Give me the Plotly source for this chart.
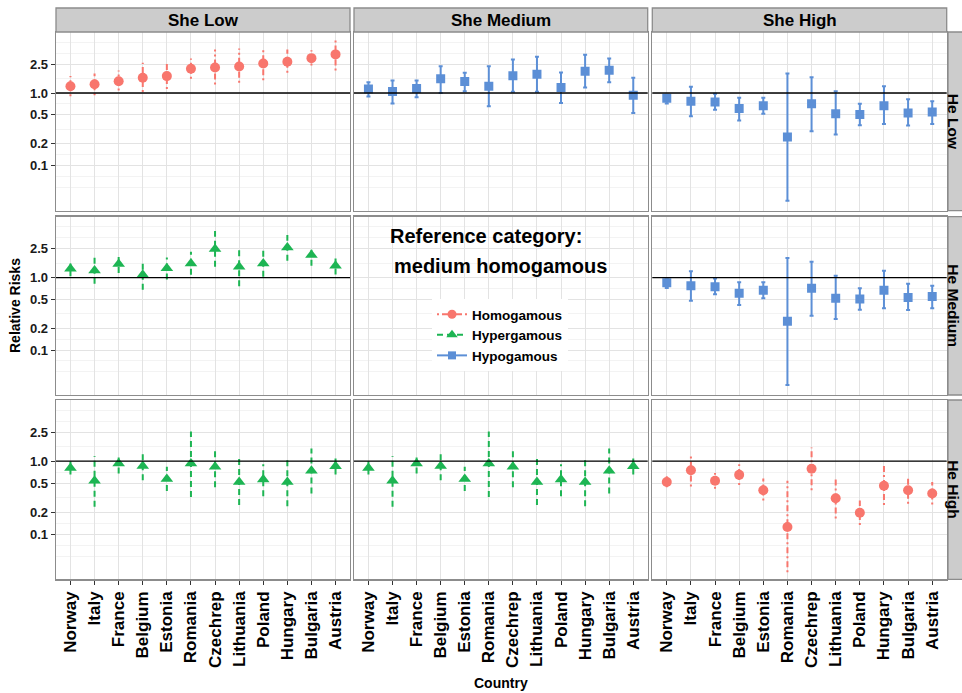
import plotly.graph_objects as go

countries = ["Norway", "Italy", "France", "Belgium", "Estonia", "Romania",
             "Czechrep", "Lithuania", "Poland", "Hungary", "Bulgaria", "Austria"]
she_levels = ["She Low", "She Medium", "She High"]
he_levels = ["He Low", "He Medium", "He High"]
y_tick_vals = [0.1, 0.2, 0.5, 1.0, 2.5]
y_tick_text = ["0.1", "0.2", "0.5", "1.0", "2.5"]
y_minor_vals = [0.05, 0.0707, 0.141, 0.316, 0.707, 1.58, 3.53, 5.0]

# He Low row
homo_sl_hl = [1.24, 1.32, 1.45, 1.62, 1.71, 2.16, 2.25, 2.32, 2.55, 2.69, 3.02, 3.40]
homo_sl_hl_lo = [0.90, 0.93, 1.08, 1.03, 1.14, 1.57, 1.31, 1.38, 1.50, 1.90, 2.39, 2.04]
homo_sl_hl_hi = [1.71, 1.86, 2.04, 2.61, 2.61, 2.99, 3.98, 4.11, 4.20, 3.98, 3.89, 5.60]

hypo_sm_hl = [1.14, 1.05, 1.15, 1.57, 1.44, 1.24, 1.73, 1.82, 1.19, 2.00, 2.06, 0.93]
hypo_sm_hl_lo = [0.895, 0.72, 0.875, 1.00, 1.06, 0.66, 1.04, 1.04, 0.73, 1.19, 1.41, 0.53]
hypo_sm_hl_hi = [1.41, 1.49, 1.49, 2.34, 1.90, 2.34, 2.90, 3.16, 1.92, 3.37, 2.99, 1.62]

hypo_sh_hl = [0.85, 0.77, 0.75, 0.61, 0.67, 0.249, 0.71, 0.52, 0.505, 0.67, 0.53, 0.55]
hypo_sh_hl_lo = [0.72, 0.48, 0.59, 0.42, 0.52, 0.033, 0.297, 0.268, 0.36, 0.376, 0.356, 0.376]
hypo_sh_hl_hi = [0.95, 1.22, 0.975, 0.86, 0.86, 1.86, 1.65, 1.06, 0.71, 1.24, 0.82, 0.77]

# He Medium row
hyper_sl_hm = [1.32, 1.25, 1.54, 1.09, 1.34, 1.57, 2.47, 1.41, 1.57, 2.60, 2.05, 1.46]
hyper_sl_hm_lo = [1.04, 0.82, 1.16, 0.68, 0.94, 1.09, 1.41, 0.76, 1.03, 1.71, 1.46, 1.10]
hyper_sl_hm_hi = [1.57, 1.88, 2.05, 1.76, 1.90, 2.27, 4.40, 2.60, 2.34, 3.88, 2.74, 1.90]

hypo_sh_hm = [0.85, 0.77, 0.75, 0.61, 0.67, 0.249, 0.71, 0.52, 0.505, 0.67, 0.53, 0.55]
hypo_sh_hm_lo = [0.72, 0.48, 0.59, 0.42, 0.52, 0.033, 0.297, 0.268, 0.36, 0.376, 0.356, 0.376]
hypo_sh_hm_hi = [0.95, 1.22, 0.975, 0.86, 0.86, 1.86, 1.65, 1.06, 0.71, 1.24, 0.82, 0.77]

# He High row
hyper_sl_hh = [0.81, 0.54, 0.93, 0.86, 0.57, 0.93, 0.84, 0.52, 0.56, 0.52, 0.74, 0.85]
hyper_sl_hh_lo = [0.66, 0.237, 0.68, 0.55, 0.39, 0.324, 0.44, 0.25, 0.33, 0.242, 0.36, 0.66]
hyper_sl_hh_hi = [1.00, 1.18, 1.25, 1.34, 0.84, 2.55, 1.52, 1.09, 0.91, 1.15, 1.49, 1.09]

hyper_sm_hh = [0.81, 0.54, 0.93, 0.86, 0.57, 0.93, 0.84, 0.52, 0.56, 0.52, 0.74, 0.85]
hyper_sm_hh_lo = [0.66, 0.237, 0.68, 0.55, 0.39, 0.324, 0.44, 0.25, 0.33, 0.242, 0.36, 0.66]
hyper_sm_hh_hi = [1.00, 1.18, 1.25, 1.34, 0.84, 2.55, 1.52, 1.09, 0.91, 1.15, 1.49, 1.09]

homo_sh_hh = [0.52, 0.75, 0.54, 0.65, 0.40, 0.125, 0.79, 0.31, 0.196, 0.46, 0.40, 0.36]
homo_sh_hh_lo = [0.44, 0.45, 0.42, 0.47, 0.29, 0.030, 0.40, 0.164, 0.133, 0.25, 0.26, 0.255]
homo_sh_hh_hi = [0.64, 1.25, 0.69, 0.91, 0.58, 0.54, 1.54, 0.61, 0.29, 0.88, 0.61, 0.52]

groups = ["Homogamous", "Hypergamous", "Hypogamous"]
styles = {
    "Homogamous": dict(color="#F8766D", symbol="circle", size=10, dash="2px,3px,6px,3px"),
    "Hypergamous": dict(color="#1DB553", symbol="triangle-up", size=11, dash="6px,4px"),
    "Hypogamous": dict(color="#5C8FD6", symbol="square", size=9, dash="solid"),
}

# (row, col, group, point, lo, hi)
panels = [
    (0, 0, "Homogamous", homo_sl_hl, homo_sl_hl_lo, homo_sl_hl_hi),
    (0, 1, "Hypogamous", hypo_sm_hl, hypo_sm_hl_lo, hypo_sm_hl_hi),
    (0, 2, "Hypogamous", hypo_sh_hl, hypo_sh_hl_lo, hypo_sh_hl_hi),
    (1, 0, "Hypergamous", hyper_sl_hm, hyper_sl_hm_lo, hyper_sl_hm_hi),
    (1, 2, "Hypogamous", hypo_sh_hm, hypo_sh_hm_lo, hypo_sh_hm_hi),
    (2, 0, "Hypergamous", hyper_sl_hh, hyper_sl_hh_lo, hyper_sl_hh_hi),
    (2, 1, "Hypergamous", hyper_sm_hh, hyper_sm_hh_lo, hyper_sm_hh_hi),
    (2, 2, "Homogamous", homo_sh_hh, homo_sh_hh_lo, homo_sh_hh_hi),
]

W, H = 962, 693
col_px = [(56, 350), (354, 647.7), (652.3, 946.7)]
row_px = [(32, 210.7), (216.7, 395), (400, 579.3)]
FONT = "Liberation Sans, Arial, sans-serif"


def px(xp):
    return xp / W


def py(yp):
    return 1 - yp / H


def ax_id(r, c):
    n = r * 3 + c + 1
    return "" if n == 1 else str(n)


fig = go.Figure()

# legend keys
for g in groups:
    s = styles[g]
    fig.add_trace(go.Scatter(
        x=[None], y=[None], mode="lines+markers", name=g,
        line=dict(color=s["color"], width=2, dash=s["dash"]),
        marker=dict(color=s["color"], symbol=s["symbol"], size=s["size"] - 1),
        xaxis="x5", yaxis="y5", showlegend=True))

# placeholder for empty panel so categories register
fig.add_trace(go.Scatter(x=countries, y=[None] * len(countries), mode="markers",
                         xaxis="x5", yaxis="y5", showlegend=False, hoverinfo="skip"))

for r, c, g, pt, lo, hi in panels:
    s = styles[g]
    aid = ax_id(r, c)
    if s["dash"] == "solid":
        fig.add_trace(go.Scatter(
            x=countries, y=pt, mode="markers",
            marker=dict(color=s["color"], symbol=s["symbol"], size=s["size"]),
            error_y=dict(type="data", symmetric=False,
                         array=[h - p for h, p in zip(hi, pt)],
                         arrayminus=[p - l for p, l in zip(pt, lo)],
                         color=s["color"], thickness=2, width=2),
            xaxis="x" + aid, yaxis="y" + aid, showlegend=False))
    else:
        xs, ys = [], []
        for cn, l, h in zip(countries, lo, hi):
            xs += [cn, cn, None]
            ys += [l, h, None]
        fig.add_trace(go.Scatter(
            x=xs, y=ys, mode="lines",
            line=dict(color=s["color"], width=2, dash=s["dash"]),
            xaxis="x" + aid, yaxis="y" + aid, showlegend=False, hoverinfo="skip"))
        fig.add_trace(go.Scatter(
            x=countries, y=pt, mode="markers",
            marker=dict(color=s["color"], symbol=s["symbol"], size=s["size"]),
            xaxis="x" + aid, yaxis="y" + aid, showlegend=False))

layout = dict(
    width=W, height=H, autosize=False,
    margin=dict(l=0, r=0, t=0, b=0),
    paper_bgcolor="white", plot_bgcolor="white",
    font=dict(family=FONT, color="#000000"),
    showlegend=True,
    legend=dict(x=px(432), y=py(299), xanchor="left", yanchor="top",
                bgcolor="white", borderwidth=0,
                font=dict(family=FONT, size=13.5, color="#000", weight="bold"),
                itemwidth=30, tracegroupgap=0),
)

shapes = []
annotations = []
for r in range(3):
    for c in range(3):
        aid = ax_id(r, c)
        x0, x1 = col_px[c]
        y0, y1 = row_px[r]
        bottom = (r == 2)
        left = (c == 0)
        layout["xaxis" + aid] = dict(
            domain=[px(x0), px(x1)], anchor="y" + aid,
            type="category", categoryorder="array", categoryarray=countries,
            range=[-0.6, 11.6], showgrid=True, gridcolor="#E3E3E3", gridwidth=1,
            zeroline=False, showline=True, mirror=True, linecolor="#8C8C8C", linewidth=1.3,
            ticks="outside" if bottom else "", ticklen=4, tickcolor="#333333",
            showticklabels=bottom, tickangle=-90,
            tickfont=dict(family=FONT, size=17, color="#000", weight="bold"),
        )
        layout["yaxis" + aid] = dict(
            domain=[py(y1), py(y0)], anchor="x" + aid,
            type="log", range=[-1.62, 0.84],
            tickmode="array", tickvals=y_tick_vals, ticktext=y_tick_text,
            showgrid=True, gridcolor="#E3E3E3", gridwidth=1,
            minor=dict(tickmode="array", tickvals=y_minor_vals, showgrid=True,
                       gridcolor="#F3F3F3", gridwidth=1, ticks=""),
            zeroline=False, showline=True, mirror=True, linecolor="#8C8C8C", linewidth=1.3,
            ticks="outside" if left else "", ticklen=4, tickcolor="#333333",
            showticklabels=left,
            tickfont=dict(family=FONT, size=13, color="#1a1a1a", weight="bold"),
        )
        if not (r == 1 and c == 1):
            shapes.append(dict(type="line", xref="x" + aid + " domain", yref="y" + aid,
                               x0=0, x1=1, y0=1, y1=1,
                               line=dict(color="#000000", width=1.3)))

# top strips
for c, lab in enumerate(she_levels):
    x0, x1 = col_px[c]
    shapes.append(dict(type="rect", xref="paper", yref="paper",
                       x0=px(x0), x1=px(x1), y0=py(32), y1=py(8),
                       fillcolor="#CCCCCC", line=dict(color="#8C8C8C", width=1.3)))
    annotations.append(dict(text=lab, x=px((x0 + x1) / 2), y=py(20.5),
                            xref="paper", yref="paper", showarrow=False,
                            xanchor="center", yanchor="middle",
                            font=dict(family=FONT, size=17, color="#000", weight="bold")))
# right strips
for r, lab in enumerate(he_levels):
    y0, y1 = row_px[r]
    shapes.append(dict(type="rect", xref="paper", yref="paper",
                       x0=px(948), x1=px(975), y0=py(y1), y1=py(y0),
                       fillcolor="#CCCCCC", line=dict(color="#8C8C8C", width=1.3)))
    annotations.append(dict(text=lab, x=px(953.5), y=py((y0 + y1) / 2),
                            xref="paper", yref="paper", showarrow=False, textangle=90,
                            xanchor="center", yanchor="middle",
                            font=dict(family=FONT, size=15.5, color="#000", weight="bold")))

annotations.append(dict(text="Relative Risks", x=px(15), y=py(306),
                        xref="paper", yref="paper", showarrow=False, textangle=-90,
                        xanchor="center", yanchor="middle",
                        font=dict(family=FONT, size=14, color="#000", weight="bold")))
annotations.append(dict(text="Country", x=px(501), y=py(683),
                        xref="paper", yref="paper", showarrow=False,
                        xanchor="center", yanchor="middle",
                        font=dict(family=FONT, size=14, color="#000", weight="bold")))
annotations.append(dict(text="Reference category:", x=px(388), y=py(236),
                        xref="paper", yref="paper", showarrow=False,
                        xanchor="left", yanchor="middle",
                        font=dict(family=FONT, size=20, color="#000", weight="bold")))
annotations.append(dict(text="medium homogamous", x=px(392), y=py(266),
                        xref="paper", yref="paper", showarrow=False,
                        xanchor="left", yanchor="middle",
                        font=dict(family=FONT, size=20, color="#000", weight="bold")))

layout["shapes"] = shapes
layout["annotations"] = annotations
fig.update_layout(**layout)
fig.write_html("out.html",
               config={"displayModeBar": False, "staticPlot": True},
               post_script="document.body.style.margin='0';document.body.style.overflow='hidden';")
